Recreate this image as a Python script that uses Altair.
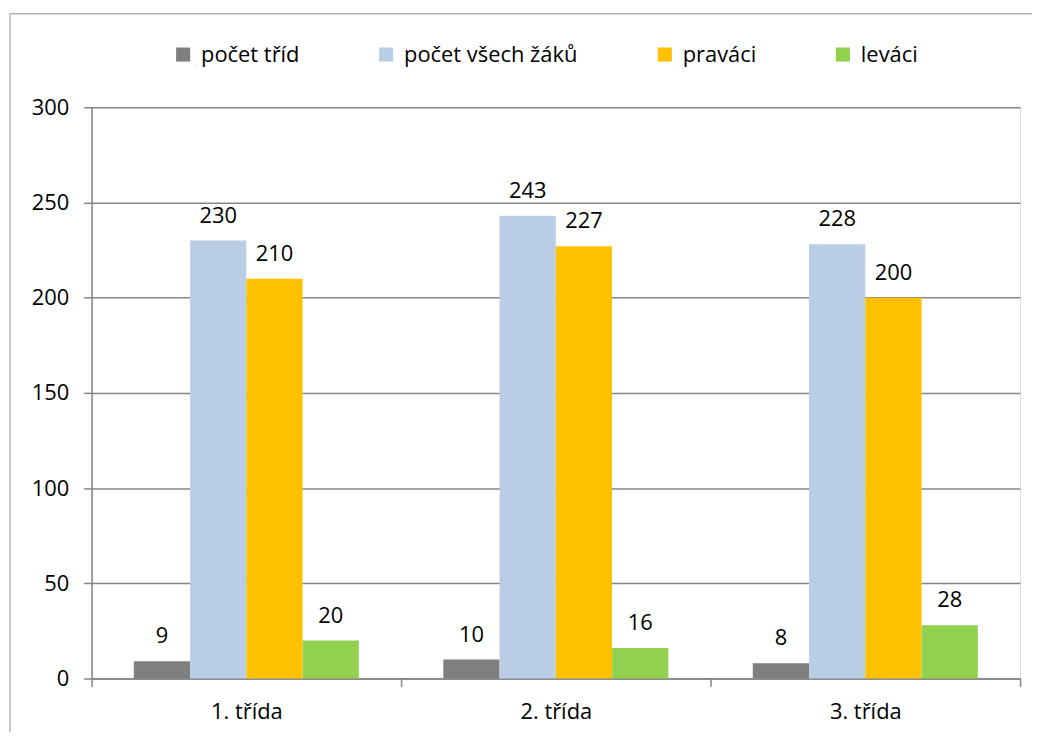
import altair as alt
import pandas as pd

categories = ["1. třída", "2. třída", "3. třída"]
series = ["počet tříd", "počet všech žáků", "praváci", "leváci"]
pocet_trid = [9, 10, 8]
pocet_zaku = [230, 243, 228]
pravaci = [210, 227, 200]
levaci = [20, 16, 28]
colors = ["#7f7f7f", "#b9cde5", "#ffc000", "#92d050"]

rows = []
for vals, s in zip([pocet_trid, pocet_zaku, pravaci, levaci], series):
    for c, v in zip(categories, vals):
        rows.append({"kategorie": c, "serie": s, "hodnota": v})
df = pd.DataFrame(rows)

FONT = "Open Sans"
FS = 22
W, H = 933, 574

x = alt.X("kategorie:N", sort=categories, title=None,
          scale=alt.Scale(paddingInner=0, paddingOuter=0),
          axis=alt.Axis(labelAngle=0, tickBand="extent", tickSize=8,
                        labelPadding=15, labelFontSize=FS, labelFont=FONT,
                        labelColor="#000000", domainColor="#868686",
                        tickColor="#868686", domainWidth=1.5, tickWidth=1.5))
xo = alt.XOffset("serie:N", sort=series,
                 scale=alt.Scale(paddingInner=0, paddingOuter=0.75))
y = alt.Y("hodnota:Q", title=None,
          scale=alt.Scale(domain=[0, 300]),
          axis=alt.Axis(values=[0, 50, 100, 150, 200, 250, 300], tickSize=8,
                        labelPadding=15, labelFontSize=FS, labelFont=FONT,
                        labelColor="#000000", gridColor="#868686", gridWidth=1.5,
                        domainColor="#868686", tickColor="#868686",
                        domainWidth=1.5, tickWidth=1.5))

color = alt.Color("serie:N", sort=series,
                  scale=alt.Scale(domain=series, range=colors),
                  legend=alt.Legend(title=None, orient="none", direction="horizontal",
                                    legendX=81, legendY=-64, symbolType="square",
                                    symbolSize=200, symbolStrokeWidth=0,
                                    labelFontSize=FS, labelFont=FONT, labelLimit=400,
                                    labelColor="#000000", columnPadding=76,
                                    labelOffset=7))

frame = alt.Chart(pd.DataFrame({"a": [0]})).mark_rect(
    fillOpacity=0, stroke="#b4b4b4", strokeWidth=1.5
).encode(x=alt.value(-82), x2=alt.value(W + 60), y=alt.value(-94), y2=alt.value(H + 120))

bars = alt.Chart(df).mark_bar(size=56.5).encode(x=x, xOffset=xo, y=y, color=color)

labels = alt.Chart(df).mark_text(
    baseline="bottom", dy=-13, fontSize=FS, font=FONT, color="#000000"
).encode(x=x, xOffset=xo, y=y, text="hodnota:Q")

chart = alt.layer(frame, bars, labels).properties(
    width=W, height=H,
    autosize=alt.AutoSizeParams(type="none"),
    padding={"left": 84, "top": 98, "right": 12, "bottom": 52},
).configure_view(stroke=None).configure(background="white")

chart.save("out.html", embed_options={"renderer": "svg", "actions": False})
